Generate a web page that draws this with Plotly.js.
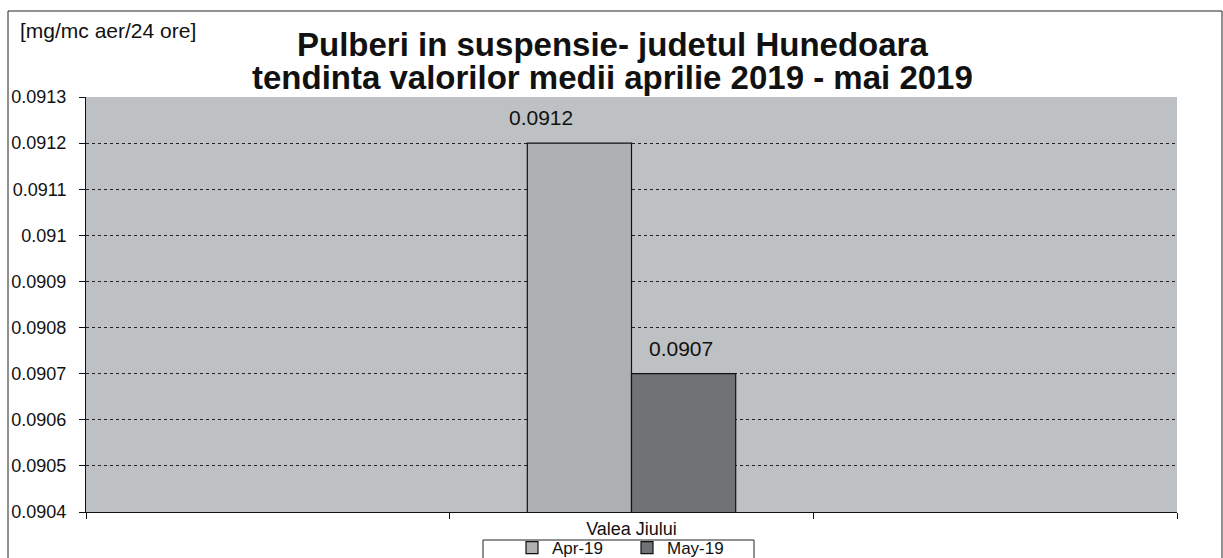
<!DOCTYPE html>
<html>
<head>
<meta charset="utf-8">
<script src="https://cdn.plot.ly/plotly-3.0.1.min.js"></script>
<style>html,body{margin:0;padding:0;background:#fff;}#chart{width:1223px;height:558px;}</style>
</head>
<body>
<div id="chart"></div>
<script>
// Data
const categories = ["Valea Jiului"];
const slots = [" ", "Valea Jiului", "  "];
const seriesNames = ["Apr-19", "May-19"];
const apr19 = [0.0912];
const may19 = [0.0907];
const yTickVals = [0.0904, 0.0905, 0.0906, 0.0907, 0.0908, 0.0909, 0.0910, 0.0911, 0.0912, 0.0913];
const yTickText = ["0.0904", "0.0905", "0.0906", "0.0907", "0.0908", "0.0909", "0.091", "0.0911", "0.0912", "0.0913"];
const titleLines = ["Pulberi in suspensie- judetul Hunedoara", "tendinta valorilor medii aprilie 2019 - mai 2019"];
const unitLabel = "[mg/mc aer/24 ore]";

const FONT = "Liberation Sans, Arial, sans-serif";
const W = 1223, H = 558, ML = 86, MR = 46, MT = 97, MB = 46;
const PW = W - ML - MR, PH = H - MT - MB;
const px = x => (x - ML) / PW;
const py = y => (H - MB - y) / PH;

const traces = [
  {
    type: "bar", name: seriesNames[0], x: categories, y: apr19,
    marker: {color: "#aeb0b2", line: {color: "#111", width: 1.2}}
  },
  {
    type: "bar", name: seriesNames[1], x: categories, y: may19,
    marker: {color: "#707274", line: {color: "#111", width: 1.2}}
  }
];

// data labels anchored to the data values (pixel shift relative to category centre)
const labelShifts = [-91, 49];
const labelAnn = [];
[apr19, may19].forEach((arr, s) => {
  arr.forEach((v, i) => {
    labelAnn.push({
      x: categories[i], y: v, xref: "x", yref: "y",
      text: String(v), showarrow: false,
      xanchor: "center", yanchor: "bottom",
      xshift: labelShifts[s], yshift: 12,
      font: {family: FONT, size: 21, color: "#111"}
    });
  });
});

const layout = {
  width: W, height: H,
  margin: {l: ML, r: MR, t: MT, b: MB, autoexpand: false},
  paper_bgcolor: "#ffffff",
  plot_bgcolor: "#bec1c3",
  font: {family: FONT, size: 17, color: "#111"},
  barmode: "group",
  bargap: 0.427,
  bargroupgap: 0,
  showlegend: true,
  xaxis: {
    type: "category",
    categoryorder: "array", categoryarray: slots,
    range: [-0.5, 2.5],
    tickson: "boundaries",
    ticks: "outside", ticklen: 6, tickcolor: "#111", tickwidth: 1,
    showgrid: false, showline: true, linecolor: "#111", linewidth: 1,
    tickfont: {family: FONT, size: 18, color: "#111"},
    fixedrange: true
  },
  yaxis: {
    range: [0.0904, 0.0913],
    tickmode: "array", tickvals: yTickVals, ticktext: yTickText,
    ticks: "outside", ticklen: 6, tickcolor: "#111", tickwidth: 1,
    ticklabelstandoff: 9,
    showline: true, linecolor: "#111", linewidth: 1,
    showgrid: true, gridcolor: "#222", gridwidth: 1, griddash: "dot",
    zeroline: false,
    tickfont: {family: FONT, size: 18, color: "#111"},
    fixedrange: true
  },
  legend: {
    orientation: "h",
    x: px(512), xanchor: "left", y: py(530), yanchor: "top",
    borderwidth: 0, bgcolor: "rgba(0,0,0,0)",
    font: {family: FONT, size: 17, color: "#111"},
    entrywidth: 70, entrywidthmode: "pixels", tracegroupgap: 0, itemwidth: 30
  },
  annotations: labelAnn.concat([
    {text: "<b>" + titleLines[0] + "</b>", xref: "paper", yref: "paper",
     x: px(612), y: py(44), xanchor: "center", yanchor: "middle", showarrow: false,
     font: {family: FONT, size: 33, color: "#111"}},
    {text: "<b>" + titleLines[1] + "</b>", xref: "paper", yref: "paper",
     x: px(612), y: py(77), xanchor: "center", yanchor: "middle", showarrow: false,
     font: {family: FONT, size: 33, color: "#111"}},
    {text: unitLabel, xref: "paper", yref: "paper",
     x: px(18), y: py(31), xanchor: "left", yanchor: "middle",
     showarrow: false, font: {family: FONT, size: 21, color: "#111"}}
  ]),
  shapes: [
    {type: "rect", xref: "paper", yref: "paper",
     x0: px(8), x1: px(1222), y0: py(570), y1: py(11),
     line: {color: "#222", width: 1}, fillcolor: "rgba(0,0,0,0)", layer: "below"},
    {type: "rect", xref: "paper", yref: "paper",
     x0: px(483), x1: px(754), y0: py(570), y1: py(540),
     line: {color: "#222", width: 1}, fillcolor: "rgba(0,0,0,0)", layer: "below"}
  ]
};

Plotly.newPlot("chart", traces, layout, {displayModeBar: false, staticPlot: true});
</script>
</body>
</html>
